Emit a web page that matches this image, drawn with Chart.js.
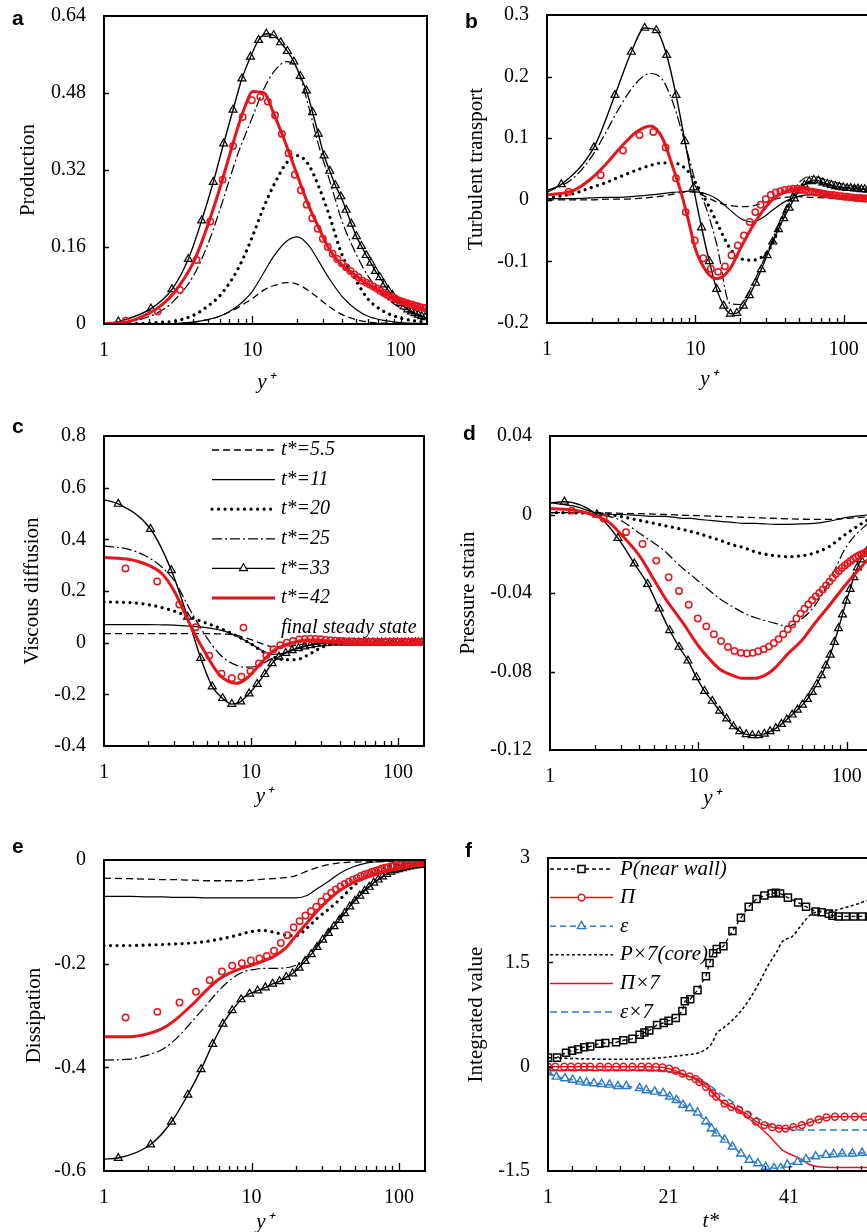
<!DOCTYPE html>
<html><head><meta charset="utf-8">
<script src="https://cdn.jsdelivr.net/npm/chart.js@4.4.1/dist/chart.umd.min.js"></script>
<style>
html,body{margin:0;padding:0;background:#fff;}
body{width:867px;height:1232px;overflow:hidden;position:relative;}
canvas{position:absolute;}
</style></head><body>
<script>
// ================= DATA =================
// wall-normal grids (y+)
const XL = [1, 1.5, 2, 2.5, 3, 4, 5, 6, 7, 8, 9, 10, 12, 14, 17, 20, 24, 28, 33, 40, 50, 60, 75, 100, 150];
const G = [1.25, 2.07, 2.87, 3.7, 4.55, 5.45, 6.4, 7.4, 8.5, 9.7, 11.0, 12.4, 13.9, 15.5, 17.2, 19.0, 21.0, 23.1, 25.4, 27.8, 30.4, 33.2, 36.2, 39.4, 42.8, 46.4, 50.2, 54.2, 58.4, 62.8, 67.4, 72.2, 77.2, 82.4, 87.8, 93.4, 99.2, 105.2, 111.4, 117.8, 124.4, 131.2, 138.2, 145.4];
const GC = [1.4, 2.3, 3.25, 4.2, 5.2, 6.3, 7.4, 8.6, 9.9, 11.3, 12.7, 14.2, 15.8, 17.5, 19.3, 21.2, 23.2, 25.3, 27.5, 29.8, 32.2, 34.7, 37.3, 40, 42.8, 45.7, 48.7, 51.8, 55, 58.3, 61.7, 65.2, 68.8, 72.5, 76.3, 80.2, 84.2, 88.3, 92.5, 96.8, 101.2, 105.7, 110.3, 115, 119.8, 124.7, 129.7, 134.8, 140, 145.3];

const seriesLabels = ['t*=5.5', 't*=11', 't*=20', 't*=25', 't*=33', 't*=42', 'final steady state'];

// ---- (a) Production ----
const a_t55 = [0,0,0,0,0.001,0.004,0.009,0.016,0.025,0.034,0.044,0.053,0.071,0.08,0.086,0.083,0.069,0.053,0.036,0.02,0.009,0.004,0.002,0.001,0];
const a_t11 = [0,0,0,0,0.001,0.004,0.009,0.016,0.026,0.038,0.052,0.068,0.108,0.142,0.172,0.181,0.163,0.13,0.094,0.058,0.03,0.016,0.008,0.003,0.001];
const a_t20 = [0,0.001,0.002,0.004,0.006,0.018,0.037,0.058,0.085,0.115,0.148,0.182,0.245,0.29,0.335,0.35,0.33,0.285,0.225,0.145,0.09,0.052,0.028,0.012,0.003];
const a_t25 = [0,0.005,0.015,0.03,0.05,0.1,0.165,0.235,0.3,0.355,0.395,0.43,0.49,0.525,0.545,0.53,0.45,0.37,0.3,0.215,0.145,0.1,0.062,0.033,0.012];
const a_t33_wall = 0;
const a_t33 = [0.005,0.032,0.072,0.135,0.215,0.295,0.375,0.445,0.51,0.555,0.59,0.603,0.6,0.585,0.567,0.545,0.515,0.485,0.44,0.395,0.35,0.318,0.288,0.265,0.237,0.208,0.182,0.162,0.143,0.127,0.11,0.097,0.082,0.07,0.06,0.05,0.043,0.036,0.03,0.026,0.022,0.019,0.016,0.014];
const a_t42 = [0,0.006,0.022,0.042,0.067,0.128,0.205,0.28,0.35,0.41,0.455,0.483,0.48,0.435,0.37,0.31,0.245,0.2,0.155,0.123,0.1,0.082,0.066,0.049,0.029];
const a_fin = [0.007,0.026,0.071,0.133,0.213,0.3,0.37,0.43,0.465,0.472,0.462,0.434,0.395,0.355,0.31,0.278,0.248,0.22,0.198,0.177,0.16,0.146,0.135,0.126,0.118,0.11,0.103,0.097,0.09,0.086,0.082,0.078,0.074,0.069,0.065,0.061,0.058,0.054,0.052,0.049,0.047,0.045,0.043,0.041,0.04,0.038,0.037,0.035,0.034,0.033];
const a_yTicks = [0, 0.16, 0.32, 0.48, 0.64];

// ---- (b) Turbulent transport ----
const b_t55 = [0,0,0,0.001,0.001,0.002,0.004,0.006,0.009,0.012,0.013,0.012,0.004,-0.004,-0.009,-0.011,-0.01,-0.006,0,0.004,0.005,0.004,0.003,0.002,0.001];
const b_t11 = [0.002,0.002,0.003,0.004,0.004,0.006,0.008,0.01,0.012,0.013,0.014,0.013,0.009,0.001,-0.016,-0.03,-0.036,-0.03,-0.017,-0.003,0.006,0.008,0.007,0.006,0.004];
const b_t20 = [0.003,0.01,0.02,0.028,0.036,0.048,0.056,0.06,0.06,0.056,0.045,0.028,-0.005,-0.038,-0.078,-0.095,-0.098,-0.093,-0.072,-0.02,0.02,0.028,0.025,0.02,0.015];
const b_t25 = [0.012,0.035,0.07,0.11,0.145,0.19,0.205,0.195,0.16,0.115,0.07,0.03,-0.018,-0.075,-0.168,-0.17,-0.14,-0.105,-0.065,-0.015,0.028,0.038,0.033,0.025,0.017];
const b_t33_wall = 0.015;
const b_t33 = [0.025,0.085,0.17,0.24,0.279,0.275,0.235,0.17,0.095,0.02,-0.045,-0.1,-0.145,-0.172,-0.185,-0.184,-0.172,-0.155,-0.135,-0.113,-0.09,-0.068,-0.048,-0.03,-0.013,0.002,0.015,0.024,0.03,0.032,0.031,0.028,0.026,0.024,0.022,0.021,0.02,0.019,0.019,0.018,0.018,0.017,0.017,0.016];
const b_t42 = [0.008,0.015,0.035,0.058,0.08,0.11,0.12,0.1,0.055,0.012,-0.035,-0.08,-0.118,-0.128,-0.113,-0.08,-0.045,-0.02,0,0.013,0.019,0.016,0.01,0.005,0.002];
const b_fin = [0.013,0.04,0.08,0.105,0.11,0.085,0.035,-0.02,-0.066,-0.095,-0.112,-0.117,-0.108,-0.09,-0.074,-0.058,-0.036,-0.02,-0.008,0.001,0.008,0.012,0.014,0.016,0.017,0.018,0.018,0.017,0.016,0.014,0.013,0.012,0.011,0.01,0.009,0.008,0.008,0.007,0.006,0.006,0.005,0.005,0.004,0.004,0.003,0.003,0.003,0.002,0.002,0.002];
const b_yTicks = [-0.2, -0.1, 0, 0.1, 0.2, 0.3];

// ---- (c) Viscous diffusion ----
const c_t55 = [0.035,0.035,0.035,0.035,0.035,0.035,0.035,0.034,0.033,0.028,0.02,0.012,-0.005,-0.015,-0.015,-0.01,-0.005,-0.002,0,0,0,0,0,0,0];
const c_t11 = [0.07,0.07,0.07,0.069,0.068,0.063,0.058,0.05,0.04,0.025,0.01,-0.005,-0.032,-0.045,-0.04,-0.025,-0.012,-0.005,-0.002,0,0,0,0,0,0];
const c_t20 = [0.158,0.155,0.147,0.135,0.122,0.095,0.075,0.058,0.042,0.026,0.01,-0.005,-0.035,-0.055,-0.066,-0.066,-0.05,-0.028,-0.01,-0.002,0,0,0,0,0];
const c_t25 = [0.375,0.36,0.33,0.29,0.24,0.11,0.02,-0.04,-0.072,-0.088,-0.095,-0.095,-0.08,-0.06,-0.038,-0.022,-0.011,-0.005,-0.002,0,0,0,0,0,0];
const c_t33_wall = 0.553;
const c_t33 = [0.537,0.44,0.28,0.1,-0.06,-0.17,-0.215,-0.238,-0.228,-0.197,-0.16,-0.122,-0.08,-0.055,-0.04,-0.03,-0.022,-0.015,-0.01,-0.006,-0.003,-0.001,0,0,0,0,0,0,0,0,0,0,0,0,0,0,0,0,0,0,0,0,0,0];
const c_t42 = [0.33,0.322,0.3,0.265,0.2,0.05,-0.05,-0.12,-0.15,-0.157,-0.145,-0.122,-0.072,-0.034,-0.009,0.003,0.01,0.01,0.007,0.004,0.002,0.001,0.001,0.001,0.001];
const c_fin = [0.287,0.237,0.148,0.06,-0.05,-0.12,-0.138,-0.132,-0.11,-0.08,-0.05,-0.025,-0.01,0,0.007,0.012,0.014,0.015,0.014,0.013,0.011,0.01,0.008,0.007,0.006,0.005,0.005,0.004,0.004,0.004,0.003,0.003,0.003,0.003,0.003,0.003,0.003,0.003,0.003,0.003,0.003,0.003,0.003,0.003,0.003,0.003,0.003,0.003,0.003,0.003];
const c_yTicks = [-0.4, -0.2, 0, 0.2, 0.4, 0.6, 0.8];

// ---- (d) Pressure strain ----
const d_t55 = [0.001,0.001,0.001,0.0008,0.0006,0.0004,0.0002,0,-0.0002,-0.0004,-0.0005,-0.0006,-0.0008,-0.001,-0.0012,-0.0014,-0.0016,-0.0018,-0.002,-0.0022,-0.0024,-0.0025,-0.0025,-0.002,-0.001];
const d_t11 = [0.006,0.004,0.001,0,0,-0.0005,-0.001,-0.001,-0.0015,-0.002,-0.002,-0.0025,-0.003,-0.0035,-0.004,-0.0045,-0.0045,-0.0048,-0.005,-0.005,-0.0048,-0.0045,-0.0035,-0.0015,0];
const d_t20 = [0.001,0.0008,0.0005,0,-0.001,-0.003,-0.0045,-0.0058,-0.0068,-0.0078,-0.0088,-0.0097,-0.0116,-0.0132,-0.0155,-0.0168,-0.019,-0.0202,-0.021,-0.0215,-0.021,-0.0197,-0.0166,-0.0096,-0.001];
const d_t25 = [0.001,0.0008,0.0003,-0.001,-0.003,-0.0095,-0.0145,-0.019,-0.024,-0.028,-0.031,-0.034,-0.039,-0.043,-0.047,-0.05,-0.0525,-0.054,-0.0555,-0.057,-0.053,-0.047,-0.035,-0.016,-0.002];
const d_t33_wall = 0.006;
const d_t33 = [0.0065,0,-0.012,-0.025,-0.0355,-0.048,-0.059,-0.0675,-0.0745,-0.083,-0.09,-0.095,-0.1,-0.104,-0.108,-0.1105,-0.112,-0.1125,-0.1125,-0.1118,-0.1105,-0.109,-0.1068,-0.1045,-0.102,-0.0995,-0.097,-0.094,-0.0905,-0.0865,-0.082,-0.077,-0.0715,-0.065,-0.058,-0.051,-0.044,-0.038,-0.032,-0.027,-0.023,-0.02,-0.018,-0.016];
const d_t42 = [0.003,0.002,-0.0005,-0.004,-0.01,-0.021,-0.033,-0.043,-0.05,-0.056,-0.062,-0.067,-0.074,-0.079,-0.082,-0.0835,-0.0835,-0.082,-0.078,-0.071,-0.064,-0.056,-0.047,-0.035,-0.02];
const d_fin = [0.002,-0.002,-0.009,-0.015,-0.0235,-0.032,-0.039,-0.046,-0.053,-0.057,-0.061,-0.0645,-0.0675,-0.0695,-0.0705,-0.0708,-0.0705,-0.0697,-0.0686,-0.0673,-0.0655,-0.0635,-0.061,-0.0585,-0.056,-0.053,-0.0505,-0.048,-0.0458,-0.0437,-0.0418,-0.04,-0.0382,-0.0362,-0.0342,-0.0322,-0.0303,-0.0288,-0.0272,-0.026,-0.0248,-0.0237,-0.0227,-0.0218,-0.021,-0.0203,-0.0198,-0.0193,-0.0189,-0.0186];
const d_yTicks = [-0.12, -0.08, -0.04, 0, 0.04];

// ---- (e) Dissipation ----
const e_t55 = [-0.035,-0.036,-0.037,-0.038,-0.038,-0.039,-0.04,-0.04,-0.04,-0.04,-0.04,-0.039,-0.037,-0.036,-0.034,-0.03,-0.021,-0.014,-0.009,-0.0055,-0.004,-0.0035,-0.003,-0.002,-0.001];
const e_t11 = [-0.07,-0.07,-0.071,-0.071,-0.072,-0.072,-0.073,-0.073,-0.073,-0.073,-0.073,-0.073,-0.073,-0.073,-0.073,-0.073,-0.068,-0.055,-0.042,-0.025,-0.012,-0.006,-0.003,-0.001,0];
const e_t20 = [-0.165,-0.165,-0.164,-0.163,-0.162,-0.16,-0.157,-0.153,-0.149,-0.145,-0.141,-0.138,-0.136,-0.139,-0.145,-0.146,-0.13,-0.112,-0.096,-0.075,-0.048,-0.031,-0.018,-0.008,-0.003];
const e_t25 = [-0.386,-0.384,-0.376,-0.365,-0.348,-0.31,-0.278,-0.252,-0.234,-0.222,-0.215,-0.212,-0.209,-0.209,-0.208,-0.203,-0.185,-0.163,-0.138,-0.11,-0.077,-0.055,-0.035,-0.018,-0.008];
const e_t33_wall = -0.577;
const e_t33 = [-0.575,-0.549,-0.505,-0.453,-0.404,-0.355,-0.316,-0.29,-0.269,-0.258,-0.252,-0.246,-0.239,-0.234,-0.226,-0.219,-0.208,-0.195,-0.182,-0.168,-0.154,-0.141,-0.128,-0.116,-0.103,-0.09,-0.079,-0.069,-0.06,-0.052,-0.044,-0.038,-0.032,-0.027,-0.023,-0.02,-0.018,-0.016,-0.014,-0.0125,-0.0115,-0.0105,-0.01,-0.0095];
const e_t42 = [-0.341,-0.341,-0.335,-0.325,-0.31,-0.278,-0.25,-0.23,-0.219,-0.212,-0.207,-0.203,-0.195,-0.187,-0.17,-0.146,-0.12,-0.098,-0.078,-0.058,-0.042,-0.034,-0.025,-0.017,-0.006];
const e_fin = [-0.304,-0.293,-0.275,-0.254,-0.232,-0.215,-0.204,-0.199,-0.194,-0.19,-0.185,-0.175,-0.16,-0.145,-0.13,-0.118,-0.107,-0.099,-0.09,-0.08,-0.071,-0.063,-0.057,-0.051,-0.046,-0.042,-0.038,-0.035,-0.031,-0.028,-0.026,-0.023,-0.021,-0.019,-0.017,-0.015,-0.014,-0.012,-0.011,-0.01,-0.009,-0.008,-0.0075,-0.007,-0.0065,-0.006,-0.0058,-0.0055,-0.0052,-0.005];
const e_yTicks = [-0.6, -0.4, -0.2, 0];

// ---- (f) Integrated value vs t* ----
const fLabels = ['P(near wall)', 'Π', 'ε', 'P×7(core)', 'Π×7', 'ε×7'];
const fTP = [1, 2.5, 4, 5, 6, 7, 8, 9.5, 10.5, 12.3, 13.5, 15, 16.2, 17, 17.8, 19.1, 20.2, 21, 22.2, 23.3, 23.7, 24.6, 25.8, 27.2, 27.8, 28.4, 29, 30.1, 31.6, 33, 34.3, 35.6, 36.9, 38.1, 38.8, 39.5, 40.8, 42.5, 43.8, 45.4, 46.4, 47.6, 48.2, 49.2, 50.4, 51.7, 53.1, 54.4];
const fP = [0.13, 0.13, 0.2, 0.23, 0.25, 0.28, 0.29, 0.33, 0.34, 0.35, 0.38, 0.4, 0.46, 0.49, 0.52, 0.6, 0.63, 0.66, 0.7, 0.8, 0.94, 0.97, 1.1, 1.3, 1.49, 1.63, 1.69, 1.73, 1.95, 2.14, 2.3, 2.41, 2.46, 2.49, 2.5, 2.49, 2.43, 2.36, 2.3, 2.23, 2.22, 2.2, 2.17, 2.16, 2.16, 2.16, 2.16, 2.16];
const fTC = [1, 2.2, 3.7, 4.8, 6, 7, 8, 9.6, 11, 12.3, 13.5, 15, 16.5, 17.7, 18.9, 20, 21.1, 22.2, 23.3, 24.5, 25.5, 26.1, 27.2, 28.3, 28.9, 30.3, 31.4, 32.7, 34.1, 35.5, 36.9, 38.2, 39.3, 40.4, 41.7, 43.1, 44.5, 45.9, 47.2, 48.6, 50.2, 51.9, 53.5, 55];
const fPi = [0, 0, 0, 0, 0, 0, 0, 0, 0, 0, 0, 0, 0, 0, -0.005, -0.01, -0.03, -0.06, -0.1, -0.14, -0.18, -0.22, -0.29, -0.38, -0.43, -0.53, -0.58, -0.62, -0.69, -0.79, -0.84, -0.87, -0.89, -0.89, -0.87, -0.84, -0.8, -0.76, -0.73, -0.72, -0.72, -0.72, -0.72, -0.72];
const fTE = [1.05, 2.4, 3.8, 5.1, 6.3, 7.4, 8.6, 9.9, 11.2, 12.6, 14, 16.2, 17.3, 18.7, 20.1, 21.2, 22.3, 23.4, 24.5, 25.8, 27.2, 28.1, 28.9, 30.3, 31.6, 33, 34.4, 35.8, 37.1, 38.5, 39.6, 40.7, 42.4, 43.8, 45.4, 47.1, 48.4, 49.8, 51.5, 53.1, 54.6];
const fEps = [-0.086, -0.144, -0.168, -0.19, -0.216, -0.23, -0.24, -0.25, -0.26, -0.28, -0.28, -0.31, -0.34, -0.36, -0.38, -0.43, -0.48, -0.55, -0.6, -0.66, -0.79, -0.89, -0.96, -1.05, -1.15, -1.25, -1.34, -1.39, -1.44, -1.46, -1.46, -1.41, -1.37, -1.33, -1.29, -1.27, -1.26, -1.25, -1.25, -1.24, -1.24];
const fTL = [1, 4, 8, 12, 16, 20, 22, 24, 26, 27.5, 28.3, 28.9, 30, 31.5, 33, 34.5, 36, 37.5, 39, 39.9, 41.5, 43, 44.5, 46, 48, 50, 52, 54, 56];
const fP7 = [0.13, 0.12, 0.11, 0.105, 0.11, 0.13, 0.15, 0.17, 0.2, 0.27, 0.35, 0.47, 0.55, 0.66, 0.8, 0.98, 1.2, 1.45, 1.66, 1.8, 1.87, 2.03, 2.18, 2.23, 2.24, 2.28, 2.33, 2.39, 2.44];
const fPi7 = [-0.05, -0.05, -0.05, -0.05, -0.05, -0.06, -0.08, -0.13, -0.2, -0.27, -0.36, -0.43, -0.52, -0.58, -0.66, -0.76, -0.86, -0.98, -1.12, -1.2, -1.27, -1.33, -1.41, -1.44, -1.45, -1.45, -1.45, -1.45, -1.45];
const fEps7 = [-0.06, -0.06, -0.06, -0.06, -0.06, -0.07, -0.09, -0.13, -0.18, -0.25, -0.3, -0.34, -0.41, -0.5, -0.59, -0.67, -0.75, -0.82, -0.87, -0.89, -0.9, -0.91, -0.91, -0.91, -0.91, -0.91, -0.91, -0.91, -0.91];
const f_yTicks = [-1.5, 0, 1.5, 3];
const f_xTicks = [1, 5, 9, 13, 17, 21, 25, 29, 33, 37, 41, 45, 49, 53];
const f_xLabels = [1, 21, 41, 61];

const logTicks = [1, 2, 3, 4, 5, 6, 7, 8, 9, 10, 20, 30, 40, 50, 60, 70, 80, 90, 100];
const logLabels = [1, 10, 100];

// ================= STYLE / LAYOUT =================
const FONT = "'Liberation Serif','Times New Roman',serif";
const RED = '#e8141c', BLUE = '#2b7bcb', BLK = '#000';
const CW = 440, CH = 440;
const PCFG = {};

function xy(xs, ys) { return xs.map((x, i) => ({ x: x, y: ys[i] })); }

function drawMarker(ctx, style, r, x, y) {
  ctx.beginPath();
  if (style === 'triangle') {
    ctx.moveTo(x, y - r);
    ctx.lineTo(x + r * Math.cos(Math.PI / 6), y + r * 0.5);
    ctx.lineTo(x - r * Math.cos(Math.PI / 6), y + r * 0.5);
    ctx.closePath();
  } else if (style === 'rect') {
    const s = r * Math.SQRT1_2; ctx.rect(x - s, y - s, 2 * s, 2 * s);
  } else { ctx.arc(x, y, r, 0, Math.PI * 2); }
  ctx.fill(); ctx.stroke();
}

const framePlugin = {
  id: 'frame',
  afterDatasetsDraw(chart) {
    const cfg = PCFG[chart.canvas.id]; const a = chart.chartArea; const ctx = chart.ctx;
    ctx.save(); ctx.strokeStyle = BLK; ctx.setLineDash([]); ctx.lineWidth = 1.3;
    ctx.beginPath();
    cfg.xTickMarks.forEach(v => {
      const px = Math.round(chart.scales.x.getPixelForValue(v)) + 0.5;
      if (px <= a.left + 1 || px >= a.right - 1) return;
      const len = cfg.xMajor.includes(v) ? 8 : 5;
      ctx.moveTo(px, a.bottom); ctx.lineTo(px, a.bottom - len);
    });
    cfg.yTickMarks.forEach(v => {
      const py = Math.round(chart.scales.y.getPixelForValue(v)) + 0.5;
      if (py <= a.top + 1 || py >= a.bottom - 1) return;
      ctx.moveTo(a.left, py); ctx.lineTo(a.left + 5, py);
    });
    ctx.stroke();
    ctx.lineWidth = 2;
    ctx.strokeRect(a.left, a.top, a.right - a.left, a.bottom - a.top);
    ctx.restore();
  }
};

const letterPlugin = {
  id: 'letter',
  afterDraw(chart) {
    const g = PCFG[chart.canvas.id].g; const ctx = chart.ctx;
    ctx.save(); ctx.fillStyle = BLK; ctx.font = "bold 21px 'Liberation Sans', Arial, sans-serif";
    ctx.textBaseline = 'alphabetic'; ctx.textAlign = 'left';
    ctx.fillText(g.letter, g.lx - g.cx, g.ly - g.cy);
    ctx.restore();
  }
};

const legendPlugin = {
  id: 'insideLegend',
  afterDraw(chart) {
    const cfg = PCFG[chart.canvas.id]; const L = cfg.legend; if (!L) return;
    const g = cfg.g; const ctx = chart.ctx;
    L.order.forEach((di, i) => {
      const ds = chart.data.datasets[di];
      const y = L.y0 + i * L.dy - g.cy;
      const x0 = L.x0 - g.cx, x1 = L.x1 - g.cx;
      ctx.save();
      if (ds.showLine !== false) {
        ctx.strokeStyle = ds.borderColor; ctx.lineWidth = ds.borderWidth;
        ctx.setLineDash(ds.borderDash || []); ctx.lineCap = ds.borderCapStyle || 'butt';
        ctx.beginPath(); ctx.moveTo(x0, y); ctx.lineTo(x1, y); ctx.stroke();
      }
      if (ds.legendRadius) {
        ctx.setLineDash([]); ctx.lineCap = 'butt';
        ctx.strokeStyle = ds.pointBorderColor; ctx.lineWidth = ds.pointBorderWidth;
        ctx.fillStyle = '#fff';
        drawMarker(ctx, ds.pointStyle, ds.legendRadius, (x0 + x1) / 2, y);
      }
      ctx.fillStyle = BLK; ctx.font = 'italic ' + L.size + 'px ' + FONT;
      ctx.textBaseline = 'middle'; ctx.textAlign = 'left';
      ctx.fillText(ds.label, L.tx - g.cx, y);
      ctx.restore();
    });
  }
};

function profileDatasets(t55, t11, t20, t25, wall33, t33, t42, fin) {
  const base = { pointRadius: 0, fill: false, cubicInterpolationMode: 'monotone', pointHoverRadius: 0 };
  return [
    Object.assign({ label: seriesLabels[0], data: xy(XL, t55), borderColor: BLK, borderWidth: 1.3, borderDash: [7, 4], order: 6 }, base),
    Object.assign({ label: seriesLabels[1], data: xy(XL, t11), borderColor: BLK, borderWidth: 1.2, order: 5 }, base),
    Object.assign({ label: seriesLabels[2], data: xy(XL, t20), borderColor: BLK, borderWidth: 3.2, borderDash: [0.01, 6.5], borderCapStyle: 'round', order: 4 }, base),
    Object.assign({ label: seriesLabels[3], data: xy(XL, t25), borderColor: BLK, borderWidth: 1.2, borderDash: [10, 3, 2, 3], order: 3 }, base),
    { label: seriesLabels[4], data: [{ x: 1, y: wall33 }].concat(xy(G, t33)), borderColor: BLK, borderWidth: 1.4,
      cubicInterpolationMode: 'monotone', fill: false, order: 2,
      pointStyle: 'triangle', pointRadius: (c) => c.dataIndex === 0 ? 0 : 4.6, pointHoverRadius: 0,
      pointBorderColor: BLK, pointBorderWidth: 1.2, pointBackgroundColor: 'rgba(255,255,255,0)', legendRadius: 4.6 },
    Object.assign({ label: seriesLabels[5], data: xy(XL, t42), borderColor: RED, borderWidth: 3, order: 1 }, base),
    { label: seriesLabels[6], data: xy(GC, fin), showLine: false, order: 0, borderColor: RED,
      pointStyle: 'circle', pointRadius: 3.2, pointHoverRadius: 0, pointBorderColor: RED, pointBorderWidth: 1.5,
      pointBackgroundColor: 'rgba(255,255,255,0)', legendRadius: 3.2 }
  ];
}

function zeroPad(s) { s.paddingTop = 0; s.paddingBottom = 0; s.paddingLeft = 0; s.paddingRight = 0; }

function makeChart(id, g, datasets, xs, ys, legend) {
  const canvas = document.createElement('canvas');
  canvas.id = id; canvas.width = CW; canvas.height = CH;
  canvas.style.left = g.cx + 'px'; canvas.style.top = g.cy + 'px';
  canvas.style.width = CW + 'px'; canvas.style.height = CH + 'px';
  document.body.appendChild(canvas);
  PCFG[id] = { g: g, xTickMarks: xs.ticks, xMajor: xs.major, yTickMarks: ys.ticks, legend: legend };
  const tickFont = { family: FONT, size: 20 };
  return new Chart(canvas, {
    type: 'line',
    data: { datasets: datasets },
    options: {
      responsive: false, animation: false, devicePixelRatio: 1,
      events: [],
      layout: { padding: { left: 0, top: g.T - g.cy, right: g.cx + CW - g.R, bottom: 0 } },
      plugins: { legend: { display: false }, tooltip: { enabled: false } },
      scales: {
        x: {
          type: xs.type, min: xs.min, max: xs.max, position: 'bottom',
          afterBuildTicks: (s) => { s.ticks = xs.ticks.map(v => ({ value: v })); },
          ticks: { autoSkip: false, maxRotation: 0, minRotation: 0, padding: 15, color: BLK, font: tickFont,
            callback: (v) => xs.labels.includes(v) ? String(v) : '' },
          grid: { display: false, drawTicks: false }, border: { display: false },
          title: { display: true, text: g.xTitle, color: BLK, font: { family: FONT, size: 21, style: 'italic' },
            padding: { top: 0, bottom: (g.cy + CH) - g.xTitleY - 12.6 } },
          afterFit: (s) => { s.height = g.cy + CH - g.B; zeroPad(s); }
        },
        y: {
          type: 'linear', min: ys.min, max: ys.max,
          afterBuildTicks: (s) => { s.ticks = ys.ticks.map(v => ({ value: v })); },
          ticks: { padding: 18, color: BLK, font: tickFont, callback: (v) => String(v) },
          grid: { display: false, drawTicks: false }, border: { display: false },
          title: { display: true, text: g.yTitle, color: BLK, font: { family: FONT, size: 21 },
            padding: { top: g.yTitleX - g.cx - 12.6, bottom: 0 } },
          afterFit: (s) => { s.width = g.L - g.cx; zeroPad(s); }
        }
      }
    },
    plugins: [framePlugin, letterPlugin, legendPlugin]
  });
}

const LOGX = { type: 'logarithmic', min: 1, max: 150, ticks: logTicks, labels: logLabels, major: [10, 100] };

// (a)
makeChart('pa', { cx: 0, cy: 0, L: 104, T: 16, R: 427, B: 324, xTitle: 'y⁺', xTitleY: 382, yTitle: 'Production', yTitleX: 28, letter: 'a', lx: 12, ly: 25 },
  profileDatasets(a_t55, a_t11, a_t20, a_t25, a_t33_wall, a_t33, a_t42, a_fin),
  LOGX, { min: 0, max: 0.64, ticks: a_yTicks });
// (b)
makeChart('pb', { cx: 440, cy: 0, L: 547, T: 15, R: 870, B: 323, xTitle: 'y⁺', xTitleY: 379, yTitle: 'Turbulent transport', yTitleX: 476, letter: 'b', lx: 465, ly: 28 },
  profileDatasets(b_t55, b_t11, b_t20, b_t25, b_t33_wall, b_t33, b_t42, b_fin),
  LOGX, { min: -0.2, max: 0.3, ticks: b_yTicks });
// (c)
makeChart('pc', { cx: 0, cy: 400, L: 104, T: 436, R: 424, B: 746, xTitle: 'y⁺', xTitleY: 796, yTitle: 'Viscous diffusion', yTitleX: 32, letter: 'c', lx: 12, ly: 433 },
  profileDatasets(c_t55, c_t11, c_t20, c_t25, c_t33_wall, c_t33, c_t42, c_fin),
  LOGX, { min: -0.4, max: 0.8, ticks: c_yTicks },
  { order: [0, 1, 2, 3, 4, 5, 6], x0: 212, x1: 275, tx: 281, y0: 450, dy: 29.6, size: 20 });
// (d)
makeChart('pd', { cx: 440, cy: 400, L: 550, T: 436, R: 873, B: 750, xTitle: 'y⁺', xTitleY: 798, yTitle: 'Pressure strain', yTitleX: 468, letter: 'd', lx: 463, ly: 440 },
  profileDatasets(d_t55, d_t11, d_t20, d_t25, d_t33_wall, d_t33, d_t42, d_fin),
  LOGX, { min: -0.12, max: 0.04, ticks: d_yTicks });
// (e)
makeChart('pe', { cx: 0, cy: 800, L: 104, T: 860, R: 425, B: 1171, xTitle: 'y⁺', xTitleY: 1222, yTitle: 'Dissipation', yTitleX: 34, letter: 'e', lx: 12, ly: 853 },
  profileDatasets(e_t55, e_t11, e_t20, e_t25, e_t33_wall, e_t33, e_t42, e_fin),
  LOGX, { min: -0.6, max: 0, ticks: e_yTicks });
// (f)
const fDatasets = [
  { label: fLabels[0], data: xy(fTP, fP), borderColor: BLK, borderWidth: 1.3, borderDash: [4, 3], order: 1,
    pointStyle: 'rect', pointRadius: 5, pointBorderColor: BLK, pointBorderWidth: 1.5, pointBackgroundColor: 'rgba(255,255,255,0)', legendRadius: 5, pointHoverRadius: 0 },
  { label: fLabels[1], data: xy(fTC, fPi), borderColor: RED, borderWidth: 1.5, order: 0,
    pointStyle: 'circle', pointRadius: 3.4, pointBorderColor: RED, pointBorderWidth: 1.5, pointBackgroundColor: 'rgba(255,255,255,0)', legendRadius: 3.4, pointHoverRadius: 0 },
  { label: fLabels[2], data: xy(fTE, fEps), borderColor: BLUE, borderWidth: 1.5, borderDash: [6, 4], order: 2,
    pointStyle: 'triangle', pointRadius: 4.8, pointBorderColor: BLUE, pointBorderWidth: 1.4, pointBackgroundColor: 'rgba(255,255,255,0)', legendRadius: 4.8, pointHoverRadius: 0 },
  { label: fLabels[3], data: xy(fTL, fP7), borderColor: BLK, borderWidth: 1.5, borderDash: [3, 2.5], order: 3, pointRadius: 0, cubicInterpolationMode: 'monotone' },
  { label: fLabels[4], data: xy(fTL, fPi7), borderColor: RED, borderWidth: 1.5, order: 4, pointRadius: 0, cubicInterpolationMode: 'monotone' },
  { label: fLabels[5], data: xy(fTL, fEps7), borderColor: BLUE, borderWidth: 1.5, borderDash: [7, 4], order: 5, pointRadius: 0, cubicInterpolationMode: 'monotone' }
];
makeChart('pf', { cx: 440, cy: 800, L: 548, T: 858, R: 875, B: 1171, xTitle: 't*', xTitleY: 1221, yTitle: 'Integrated value', yTitleX: 476, letter: 'f', lx: 465, ly: 857 },
  fDatasets,
  { type: 'linear', min: 1, max: 55, ticks: f_xTicks, labels: f_xLabels, major: [] },
  { min: -1.5, max: 3, ticks: f_yTicks },
  { order: [0, 1, 2, 3, 4, 5], x0: 550, x1: 613, tx: 620, y0: 869, dy: 28.6, size: 21 });
</script>
</body></html>
